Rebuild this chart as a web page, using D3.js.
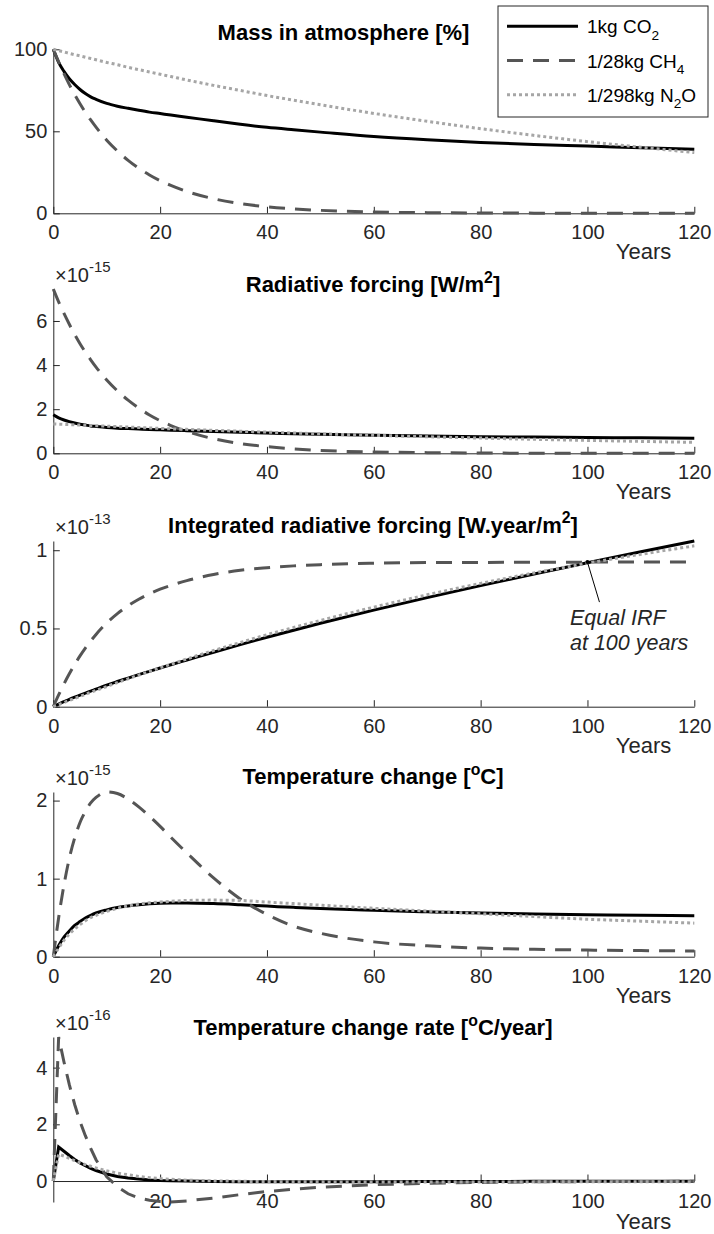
<!DOCTYPE html>
<html>
<head>
<meta charset="utf-8">
<script src="https://cdn.jsdelivr.net/npm/d3@7"></script>
<style>
body { margin: 0; background: #fff; }
text { font-family: "Liberation Sans", Arial, Helvetica, sans-serif; }
</style>
</head>
<body>
<svg id="chart" width="714" height="1234"></svg>
<script>
// years at which every series is sampled
var years = [0,1,2,3,4,5,6,7,8,10,12,14,16,18,20,22,25,30,35,40,45,50,60,70,80,90,100,110,120];

// Mass in atmosphere [%]
var massCO2 = [100,92,86.5,82,78.5,75.5,73,71,69.5,67,65.3,64,62.8,61.7,60.8,59.9,58.6,56.4,54.3,52.4,50.9,49.5,46.8,44.8,43.2,42,41,40,39];
var massCH4 = [100,92.3,85.1,78.5,72.4,66.8,61.6,56.9,52.5,44.6,38,32.3,27.5,23.4,19.9,17,13.3,8.9,5.9,4,2.7,1.8,0.8,0.4,0.2,0.1,0,0,0];
var massN2O = [100,99.2,98.4,97.5,96.7,96,95.2,94.4,93.6,92,90.6,89,87.6,86.2,84.8,83.4,81.3,78,74.9,71.8,69,66.2,60.9,56.1,51.6,47.5,43.7,40.3,37];

// Radiative forcing [W/m2], x 1e-15
var rfCO2 = [1.75,1.61,1.51,1.435,1.374,1.32,1.28,1.24,1.215,1.17,1.14,1.12,1.10,1.08,1.064,1.048,1.025,0.99,0.955,0.917,0.89,0.866,0.82,0.784,0.756,0.735,0.717,0.70,0.683];
var rfCH4 = [7.45,6.87,6.34,5.85,5.39,4.97,4.59,4.24,3.91,3.32,2.83,2.41,2.05,1.74,1.48,1.26,0.99,0.66,0.44,0.30,0.20,0.13,0.06,0.03,0.012,0.005,0.002,0.001,0];
var rfN2O = [1.33,1.32,1.31,1.30,1.29,1.28,1.27,1.26,1.25,1.23,1.21,1.19,1.17,1.15,1.13,1.11,1.085,1.04,1.0,0.96,0.92,0.884,0.815,0.75,0.69,0.635,0.585,0.54,0.495];

// Integrated radiative forcing [W.year/m2], x 1e-13
var irfCO2 = [0,0.017,0.032,0.047,0.061,0.074,0.087,0.10,0.112,0.138,0.161,0.183,0.205,0.226,0.247,0.268,0.298,0.348,0.397,0.444,0.489,0.533,0.617,0.697,0.774,0.848,0.92,0.99,1.059];
var irfCH4 = [0,0.075,0.145,0.21,0.27,0.325,0.375,0.42,0.462,0.535,0.595,0.645,0.687,0.722,0.751,0.775,0.806,0.845,0.872,0.888,0.9,0.908,0.917,0.921,0.922,0.923,0.924,0.924,0.924];
var irfN2O = [0,0.0135,0.027,0.040,0.053,0.066,0.079,0.092,0.104,0.129,0.154,0.178,0.202,0.225,0.249,0.271,0.305,0.359,0.41,0.46,0.506,0.551,0.636,0.715,0.788,0.855,0.917,0.974,1.028];

// Temperature change [oC], x 1e-15
var tempCO2 = [0,0.14,0.25,0.33,0.40,0.45,0.495,0.53,0.56,0.60,0.63,0.65,0.665,0.677,0.685,0.688,0.688,0.68,0.665,0.648,0.632,0.617,0.594,0.575,0.559,0.547,0.538,0.531,0.525];
var tempCH4 = [0,0.5,0.92,1.26,1.52,1.72,1.86,1.97,2.04,2.11,2.09,2.02,1.92,1.80,1.67,1.53,1.33,1.01,0.74,0.54,0.39,0.30,0.19,0.14,0.11,0.095,0.085,0.078,0.073];
var tempN2O = [0,0.11,0.21,0.29,0.355,0.41,0.46,0.50,0.53,0.58,0.62,0.65,0.675,0.69,0.70,0.71,0.72,0.725,0.72,0.70,0.68,0.66,0.62,0.585,0.55,0.515,0.48,0.455,0.43];

// Temperature change rate [oC/year], x 1e-16
var rateCO2 = [0,1.2,1.05,0.9,0.76,0.64,0.54,0.45,0.37,0.25,0.16,0.11,0.07,0.04,0.02,0.01,0,-0.015,-0.025,-0.03,-0.03,-0.03,-0.025,-0.02,-0.015,-0.012,-0.01,-0.008,-0.007];
var rateCH4 = [0,5.08,4.2,3.4,2.7,2.1,1.6,1.15,0.75,0.15,-0.2,-0.45,-0.6,-0.68,-0.72,-0.74,-0.7,-0.6,-0.48,-0.37,-0.29,-0.22,-0.13,-0.08,-0.05,-0.03,-0.02,-0.015,-0.01];
var rateN2O = [0,0.95,0.88,0.8,0.72,0.65,0.58,0.52,0.46,0.36,0.28,0.22,0.16,0.12,0.085,0.06,0.03,0.005,-0.01,-0.02,-0.025,-0.03,-0.035,-0.035,-0.035,-0.03,-0.03,-0.025,-0.025];

var xTicks = [0,20,40,60,80,100,120];
var legendNames = [[["1kg CO",""],["2","sub"]], [["1/28kg CH",""],["4","sub"]], [["1/298kg N",""],["2","sub"],["O",""]]];

var svg = d3.select("#chart");
var axisColor = "#262626";
var left = 53.3, right = 694.3;

var x = d3.scaleLinear().domain([0, 120]).range([left, right]);

var styles = [
    {color: "#000", width: 3, dash: null},
    {color: "#555", width: 3, dash: "16,10"},
    {color: "#a6a6a6", width: 3, dash: "3,3"}
];

var panels = [
    {title: [["Mass in atmosphere [%]",""]], series: [massCO2, massCH4, massN2O], yTicks: [0,50,100], exp: null,
     top: 49.3, bottom: 213.3, titleX: 343.5, titleY: 40},
    {title: [["Radiative forcing [W/m",""],["2","sup"],["]",""]], series: [rfCO2, rfCH4, rfN2O], yTicks: [0,2,4,6], exp: "-15",
     top: 289, bottom: 453.3, titleX: 373, titleY: 292},
    {title: [["Integrated radiative forcing [W.year/m",""],["2","sup"],["]",""]], series: [irfCO2, irfCH4, irfN2O], yTicks: [0,0.5,1], exp: "-13",
     top: 541, bottom: 706.7, titleX: 373, titleY: 532.7},
    {title: [["Temperature change [",""],["o","sup"],["C]",""]], series: [tempCO2, tempCH4, tempN2O], yTicks: [0,1,2], exp: "-15",
     top: 792, bottom: 956.7, titleX: 373, titleY: 784},
    {title: [["Temperature change rate [",""],["o","sup"],["C/year]",""]], series: [rateCO2, rateCH4, rateN2O], yTicks: [0,2,4], exp: "-16",
     top: 1037, bottom: 1202, titleX: 373, titleY: 1035.3, origin: true}
];

// write text with super/subscripts as tspans
function richText(sel, parts, size) {
    var cur = 0;
    parts.forEach(function(p) {
        var off = p[1] === "sup" ? -size * 0.42 : p[1] === "sub" ? size * 0.33 : 0;
        sel.append("tspan")
            .attr("dy", off - cur)
            .attr("font-size", p[1] ? size * 0.72 : size)
            .text(p[0]);
        cur = off;
    });
}

panels.forEach(function(p, i) {
    var all = d3.merge(p.series);
    var y = d3.scaleLinear().domain([d3.min(all), d3.max(all)]).range([p.bottom, p.top]);
    var g = svg.append("g");

    // x axis, ticks pointing inwards
    var xAxisY = p.origin ? y(0) : p.bottom;
    var xAxis = d3.axisBottom(x).tickValues(xTicks).tickSizeInner(-6.5).tickSizeOuter(0)
        .tickPadding(p.origin ? 13 : 12)
        .tickFormat(function(d) { return (p.origin && d === 0) ? "" : d; });
    var gx = g.append("g").attr("transform", "translate(0," + xAxisY + ")").call(xAxis);

    var yAxis = d3.axisLeft(y).tickValues(p.yTicks).tickSizeInner(-6.5).tickSizeOuter(0)
        .tickPadding(6).tickFormat(function(d) { return String(d); });
    var gy = g.append("g").attr("transform", "translate(" + left + ",0)").call(yAxis);

    [gx, gy].forEach(function(a) {
        a.attr("font-family", null).attr("font-size", 20);
        a.selectAll("path, line").attr("stroke", axisColor).attr("stroke-width", 1);
        a.selectAll("text").attr("fill", axisColor);
    });

    // curves
    var line = d3.line()
        .x(function(d, j) { return x(years[j]); })
        .y(function(d) { return y(d); })
        .curve(p.origin ? d3.curveLinear : d3.curveMonotoneX);

    p.series.forEach(function(s, k) {
        g.append("path")
            .datum(s)
            .attr("d", line)
            .attr("fill", "none")
            .attr("stroke", styles[k].color)
            .attr("stroke-width", styles[k].width)
            .attr("stroke-dasharray", styles[k].dash);
    });

    // title
    var t = g.append("text")
        .attr("x", p.titleX).attr("y", p.titleY)
        .attr("text-anchor", "middle")
        .attr("font-weight", "bold")
        .attr("fill", "#000");
    richText(t, p.title, 22);

    // x label
    g.append("text")
        .attr("x", 643.5)
        .attr("y", p.origin ? 1229 : p.bottom + 46)
        .attr("text-anchor", "middle")
        .attr("font-size", 22)
        .attr("fill", axisColor)
        .text("Years");

    // exponent label
    if (p.exp) {
        var e = g.append("text")
            .attr("x", 55).attr("y", p.top - 7)
            .attr("fill", axisColor)
            .attr("font-size", 20);
        e.append("tspan").text("\u00d710");
        e.append("tspan").attr("dy", -10).attr("font-size", 15).text(p.exp);
    }

    // annotation on the IRF panel
    if (i === 2) {
        var ax = x(100), ay = y(irfCH4[years.indexOf(100)]);
        g.append("line")
            .attr("x1", ax).attr("y1", ay)
            .attr("x2", ax + 12).attr("y2", ay + 40)
            .attr("stroke", "#000").attr("stroke-width", 1);
        g.append("circle").attr("cx", ax).attr("cy", ay).attr("r", 2).attr("fill", "#000");
        g.append("text")
            .attr("x", 570).attr("y", 625)
            .attr("font-size", 21.5).attr("font-style", "italic").attr("fill", axisColor)
            .text("Equal IRF");
        g.append("text")
            .attr("x", 570).attr("y", 650)
            .attr("font-size", 21.5).attr("font-style", "italic").attr("fill", axisColor)
            .text("at 100 years");
    }
});

// legend
var legend = svg.append("g");
legend.append("rect")
    .attr("x", 498).attr("y", 6).attr("width", 210).attr("height", 111)
    .attr("fill", "#fff").attr("stroke", axisColor).attr("stroke-width", 1);

var rowY = [33.3, 67.5, 101.7];
legendNames.forEach(function(name, k) {
    legend.append("line")
        .attr("x1", 507).attr("x2", 578)
        .attr("y1", rowY[k] - 7).attr("y2", rowY[k] - 7)
        .attr("stroke", styles[k].color)
        .attr("stroke-width", styles[k].width)
        .attr("stroke-dasharray", styles[k].dash);
    var t = legend.append("text")
        .attr("x", 587).attr("y", rowY[k])
        .attr("fill", "#000");
    richText(t, name, 19);
});
</script>
</body>
</html>
